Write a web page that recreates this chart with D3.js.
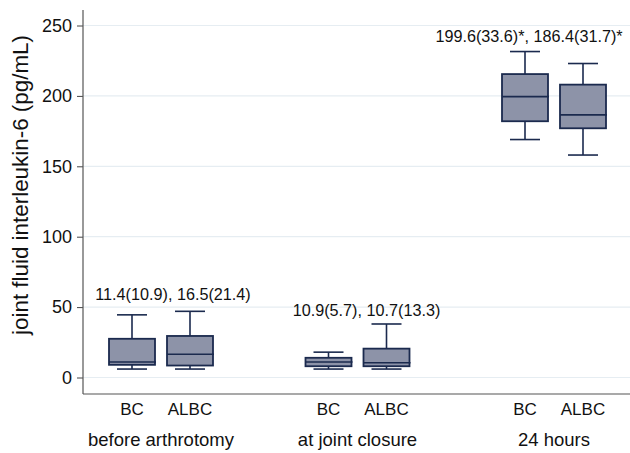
<!DOCTYPE html>
<html><head><meta charset="utf-8">
<script src="https://cdn.jsdelivr.net/npm/d3@7"></script>
<style>body{margin:0;background:#fff}svg{display:block;font-family:Arial,"Liberation Sans",sans-serif}</style>
</head><body><svg id="c" width="630" height="453"></svg>
<script>
const groups = ["before arthrotomy", "at joint closure", "24 hours"];
const subgroups = ["BC", "ALBC"];
// [lowerWhisker, q1, median, q3, upperWhisker]
const boxBC   = [[6, 9, 11, 27.5, 44.5], [6, 8, 11, 14, 18], [169, 182, 199.5, 215.5, 231.5]];
const boxALBC = [[6, 8.5, 16.5, 29.5, 47], [6, 8, 10.5, 20.5, 38], [158, 177, 186.5, 208, 223]];
const annoText = ["11.4(10.9), 16.5(21.4)", "10.9(5.7), 10.7(13.3)", "199.6(33.6)*, 186.4(31.7)*"];
const annoY = [58, 47, 241];
const annoDx = [12, 9, -25];
const yTicks = [0, 50, 100, 150, 200, 250];

(function () {
const svg = d3.select("#c");
const pL = 83, pR = 630, pB = 394, pT = 10;
const y = d3.scaleLinear().domain([0, 250]).range([377.5, 25.5]);
const gx = d3.scalePoint().domain(groups).range([161, 554]);
const sx = d3.scalePoint().domain(subgroups).range([-29, 29]);
const bw = 46;
const stroke = "#1b2a4e", fill = "#8d93a8";

// gridlines
svg.append("g").selectAll("line").data(yTicks).join("line")
  .attr("x1", pL).attr("x2", pR)
  .attr("y1", d => y(d)).attr("y2", d => y(d))
  .attr("stroke", "#e6edf2").attr("stroke-width", 1.2);

// y axis
const ya = svg.append("g").attr("transform", `translate(${pL},0)`)
  .call(d3.axisLeft(y).tickValues(yTicks).tickSize(6).tickPadding(5));
ya.select(".domain").remove();
ya.selectAll("line").attr("stroke", "#444");
ya.selectAll("text").attr("font-size", 18).attr("fill", "#111").attr("font-family", "Arial, 'Liberation Sans', sans-serif");

svg.append("line").attr("x1", pL).attr("x2", pL).attr("y1", pT).attr("y2", pB)
  .attr("stroke", "#555").attr("stroke-width", 1.2);
svg.append("line").attr("x1", pL).attr("x2", pR).attr("y1", pB).attr("y2", pB)
  .attr("stroke", "#555").attr("stroke-width", 1.2);

// boxes
const data = [];
groups.forEach((g, i) => {
  data.push({g, s: "BC", v: boxBC[i]});
  data.push({g, s: "ALBC", v: boxALBC[i]});
});
const bx = svg.append("g").selectAll("g").data(data).join("g")
  .attr("transform", d => `translate(${gx(d.g) + sx(d.s)},0)`);
bx.append("line").attr("x1", 0).attr("x2", 0).attr("y1", d => y(d.v[4])).attr("y2", d => y(d.v[3]))
  .attr("stroke", stroke).attr("stroke-width", 1.6);
bx.append("line").attr("x1", 0).attr("x2", 0).attr("y1", d => y(d.v[1])).attr("y2", d => y(d.v[0]))
  .attr("stroke", stroke).attr("stroke-width", 1.6);
bx.append("line").attr("x1", -15).attr("x2", 15).attr("y1", d => y(d.v[4])).attr("y2", d => y(d.v[4]))
  .attr("stroke", stroke).attr("stroke-width", 1.6);
bx.append("line").attr("x1", -15).attr("x2", 15).attr("y1", d => y(d.v[0])).attr("y2", d => y(d.v[0]))
  .attr("stroke", stroke).attr("stroke-width", 1.6);
bx.append("rect").attr("x", -bw / 2).attr("width", bw)
  .attr("y", d => y(d.v[3])).attr("height", d => y(d.v[1]) - y(d.v[3]))
  .attr("fill", fill).attr("stroke", stroke).attr("stroke-width", 1.8);
bx.append("line").attr("x1", -bw / 2).attr("x2", bw / 2 + 1).attr("y1", d => y(d.v[2])).attr("y2", d => y(d.v[2]))
  .attr("stroke", stroke).attr("stroke-width", 1.6);

// annotations
svg.append("g").selectAll("text").data(groups).join("text")
  .attr("x", (d, i) => gx(d) + annoDx[i]).attr("y", (d, i) => y(annoY[i]))
  .attr("text-anchor", "middle").attr("dominant-baseline", "middle")
  .attr("font-size", 16.2).attr("fill", "#111")
  .text((d, i) => annoText[i]);

// x labels
svg.append("g").selectAll("text").data(data).join("text")
  .attr("x", d => gx(d.g) + sx(d.s)).attr("y", 411)
  .attr("text-anchor", "middle").attr("dominant-baseline", "middle")
  .attr("font-size", 17).attr("fill", "#111").text(d => d.s);
svg.append("g").selectAll("text").data(groups).join("text")
  .attr("x", d => gx(d)).attr("y", 441)
  .attr("text-anchor", "middle").attr("dominant-baseline", "middle")
  .attr("font-size", 18.5).attr("fill", "#111").text(d => d);

// y title
svg.append("text").attr("transform", "translate(22,185) rotate(-90)")
  .attr("text-anchor", "middle").attr("dominant-baseline", "middle")
  .attr("font-size", 22.4).attr("fill", "#111").text("joint fluid interleukin-6 (pg/mL)");
})();
</script></body></html>
